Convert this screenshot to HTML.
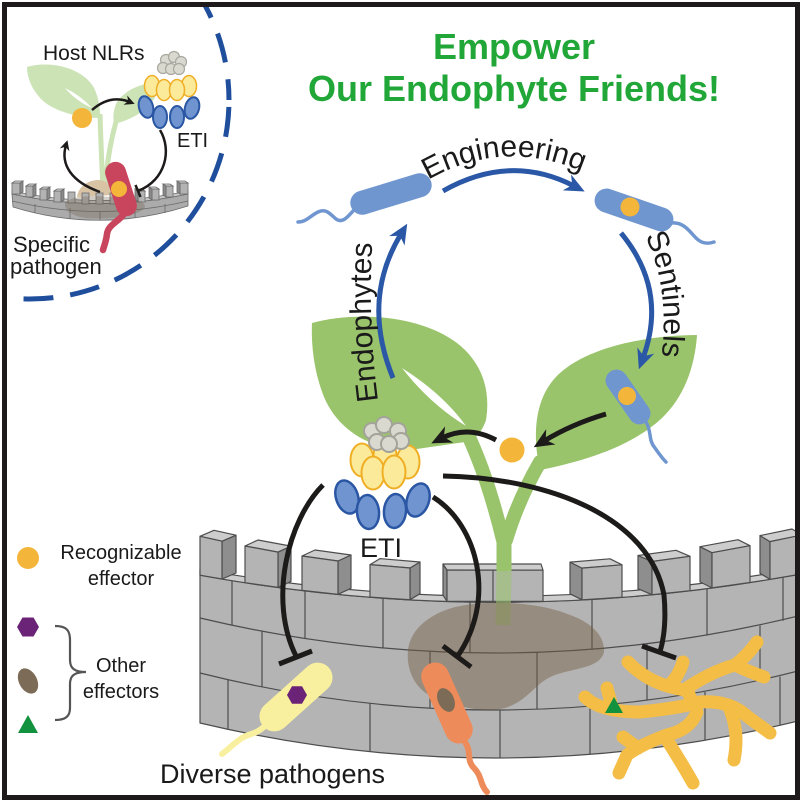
<!DOCTYPE html>
<html><head><meta charset="utf-8"><style>html,body{margin:0;padding:0;background:#fff}svg{display:block}</style></head>
<body>
<svg width="800" height="800" viewBox="0 0 800 800" xmlns="http://www.w3.org/2000/svg" font-family="'Liberation Sans', Arial, sans-serif">
<defs>
<clipPath id="cf"><rect x="7" y="7" width="788" height="788"/></clipPath>
<marker id="mb" viewBox="-22 -11 24 22" refX="-12" refY="0" markerWidth="24" markerHeight="22" markerUnits="userSpaceOnUse" orient="auto"><path d="M0,0 L-20,-9 L-14,0 L-20,9 Z" fill="#2a58a6"/></marker>
<marker id="mk" viewBox="-22 -11 24 22" refX="-12" refY="0" markerWidth="24" markerHeight="22" markerUnits="userSpaceOnUse" orient="auto"><path d="M0,0 L-20,-9 L-14,0 L-20,9 Z" fill="#1d1a1a"/></marker>
<marker id="ms" viewBox="-12 -6 14 12" refX="-5" refY="0" markerWidth="14" markerHeight="12" markerUnits="userSpaceOnUse" orient="auto"><path d="M0,0 L-10,-5 L-7,0 L-10,5 Z" fill="#1d1a1a"/></marker>
<path id="pEng" d="M428,180 Q507,135 592,176"/>
<path id="pSen" d="M645,236 Q672,290 660,370"/>
<path id="pEnd" d="M378,401 Q367,315 373,230"/>
</defs>
<rect width="800" height="800" fill="#fff"/>

<!-- ===== INSET ===== -->
<g clip-path="url(#cf)">
<circle cx="30" cy="100" r="199" fill="none" stroke="#1f4e9c" stroke-width="5" stroke-dasharray="30 17" stroke-dashoffset="40"/>
</g>
<!-- inset leaves -->
<path d="M27,67 C50,60 85,68 95,90 C100,102 100,112 100,118 C80,118 55,112 42,100 C32,90 27,78 27,67 Z" fill="#cbe3b5"/>
<path d="M65,88 Q80,95 92,108 Q76,101 65,88 Z" fill="#fff"/>
<path d="M160,83 C140,82 122,92 116,104 C113,112 113,118 114,124 C130,120 145,112 152,102 C157,95 159,89 160,83 Z" fill="#cbe3b5"/>
<path d="M100,114 Q101,150 103,188" stroke="#cbe3b5" stroke-width="5" fill="none"/>
<path d="M116,122 Q108,150 105,188" stroke="#cbe3b5" stroke-width="5" fill="none"/>
<path d="M77,197 C78,187 88,180 98,180 C106,180 112,185 113,195 Z" fill="#d9c3a5"/>
<!-- inset wall -->
<g stroke="#6a6a6a" stroke-width="0.8">
<path d="M12,194 Q100,213 188,194 L188,206 Q100,234 13,207 Z" fill="#ababab"/>
<path d="M12,194 Q100,213 188,194 L188,191 Q100,210 12,191 Z" fill="#c8c8c8"/>
<path d="M12,201 Q100,222 188,201" fill="none"/>
<g fill="#b3b3b3">
<rect x="12" y="183" width="8" height="11"/><rect x="26" y="186" width="7" height="11"/><rect x="40" y="189" width="7" height="11"/><rect x="54" y="191" width="7" height="11"/><rect x="68" y="192" width="7" height="11"/><rect x="82" y="193" width="7" height="11"/><rect x="96" y="193" width="7" height="11"/><rect x="110" y="193" width="7" height="11"/><rect x="124" y="192" width="7" height="11"/><rect x="138" y="191" width="7" height="11"/><rect x="152" y="189" width="7" height="11"/><rect x="166" y="186" width="7" height="11"/><rect x="180" y="183" width="8" height="11"/>
</g>
<g fill="#8a8a8a">
<polygon points="20,183 23,181 23,192 20,194"/><polygon points="33,186 36,184 36,195 33,197"/><polygon points="47,189 50,187 50,198 47,200"/><polygon points="61,191 64,189 64,200 61,202"/>
<polygon points="138,191 135,189 135,200 138,202"/><polygon points="152,189 149,187 149,198 152,200"/><polygon points="166,186 163,184 163,195 166,197"/><polygon points="180,183 177,181 177,192 180,194"/>
</g>
<g fill="#d0d0d0">
<polygon points="12,183 20,183 23,181 15,181"/><polygon points="26,186 33,186 36,184 29,184"/><polygon points="40,189 47,189 50,187 43,187"/><polygon points="54,191 61,191 64,189 57,189"/>
<polygon points="138,191 145,191 142,189 135,189"/><polygon points="152,189 159,189 156,187 149,187"/><polygon points="166,186 173,186 170,184 163,184"/><polygon points="180,183 188,183 185,181 177,181"/>
</g>
<line x1="35" y1="204" x2="35" y2="213"/><line x1="70" y1="208" x2="70" y2="219"/><line x1="100" y1="211" x2="100" y2="220"/><line x1="135" y1="208" x2="135" y2="218"/><line x1="165" y1="204" x2="165" y2="213"/>
</g>
<path d="M65,203 C70,196 90,195 110,197 C130,197 145,200 145,207 C140,216 110,220 85,218 C72,216 64,210 65,203 Z" fill="rgba(110,90,70,0.3)"/>
<!-- inset pathogen -->
<path d="M124,214 C118,222 108,225 107,234 C106,242 104,246 103,250" stroke="#c8455d" stroke-width="6.5" fill="none" stroke-linecap="round"/>
<g transform="translate(121,189) rotate(72)"><rect x="-28" y="-10.5" width="56" height="21" rx="10.5" fill="#c8455d"/></g>
<circle cx="119" cy="189" r="8" fill="#f4b63a"/>
<!-- inset dot & arrows -->
<circle cx="82" cy="118" r="10" fill="#f4b63a"/>
<path d="M92,110 Q110,94 130,102" fill="none" stroke="#1d1a1a" stroke-width="2.5" marker-end="url(#ms)"/>
<path d="M100,192 C72,182 60,165 66,145" fill="none" stroke="#1d1a1a" stroke-width="2.5" marker-end="url(#ms)"/>
<path d="M160,130 C172,150 166,180 138,191" fill="none" stroke="#1d1a1a" stroke-width="2.5"/>
<line x1="135.5" y1="185" x2="140.5" y2="197" stroke="#1d1a1a" stroke-width="2.5"/>
<!-- inset NLR -->
<g fill="#fbea9a" stroke="#f0ae25" stroke-width="1.5">
<ellipse cx="152" cy="86" rx="7.5" ry="10.5"/><ellipse cx="189" cy="86" rx="7.5" ry="10.5"/>
<ellipse cx="164" cy="90" rx="7.5" ry="10.5"/><ellipse cx="177" cy="90" rx="7.5" ry="10.5"/>
</g>
<g fill="#d9d9d0" stroke="#a8a8a0" stroke-width="1.2">
<circle cx="166" cy="60" r="5.5"/><circle cx="174" cy="57" r="5.5"/><circle cx="181" cy="62" r="5.5"/>
<circle cx="163" cy="68" r="5.5"/><circle cx="171" cy="69" r="5.5"/><circle cx="179" cy="69" r="5.5"/>
</g>
<g fill="#6f94d0" stroke="#2a56a3" stroke-width="2">
<ellipse cx="146" cy="107" rx="7" ry="11" transform="rotate(-15 146 107)"/>
<ellipse cx="160" cy="117" rx="7" ry="11"/>
<ellipse cx="177" cy="117" rx="7" ry="11"/>
<ellipse cx="192" cy="108" rx="7" ry="11" transform="rotate(15 192 108)"/>
</g>
<text x="43" y="60" font-size="21" fill="#1a1a1a">Host NLRs</text>
<text x="177" y="147" font-size="20" fill="#1a1a1a">ETI</text>
<text x="13" y="252" font-size="22" fill="#1a1a1a">Specific</text>
<text x="10" y="274" font-size="22" fill="#1a1a1a">pathogen</text>

<!-- ===== TITLE ===== -->
<text x="514" y="59" font-size="36" font-weight="bold" fill="#21a638" text-anchor="middle">Empower</text>
<text x="514" y="101" font-size="36" font-weight="bold" fill="#21a638" text-anchor="middle" textLength="412" lengthAdjust="spacingAndGlyphs">Our Endophyte Friends!</text>

<!-- ===== MAIN WALL ===== -->
<g clip-path="url(#cf)" stroke="#4d4d4d" stroke-width="1.2" stroke-linejoin="round">
<path d="M200,575.2 Q498.5,629.6 797,574.6 L802,574 L802,721 L797,721.3 Q498.5,793.85 200,723 Z" fill="#b4b4b4"/>
<path d="M200,575.2 Q498.5,629.6 797,574.6 L802,574 L802,567 L797,568.6 Q498.5,623.6 200,569.2 Z" fill="#cdcdcd"/>
<path d="M200,618 Q498.5,688.85 797,616.3" fill="none"/>
<path d="M200,673 Q498.5,747.9 797,671.2" fill="none"/>
<g fill="none">
<line x1="232" y1="580.6" x2="232" y2="625.3"/><line x1="305" y1="590.8" x2="305" y2="638.5"/><line x1="383" y1="598.1" x2="383" y2="647.9"/><line x1="470" y1="601.8" x2="470" y2="652.7"/><line x1="592" y1="599.3" x2="592" y2="649.4"/><line x1="707" y1="588.6" x2="707" y2="635.6"/><line x1="783" y1="577.1" x2="783" y2="620.8"/>
<line x1="262" y1="631.2" x2="262" y2="687"/><line x1="430" y1="651.2" x2="430" y2="708.1"/><line x1="537" y1="652.4" x2="537" y2="709.3"/><line x1="647" y1="644.1" x2="647" y2="700.6"/><line x1="760" y1="625.7" x2="760" y2="681.2"/>
<line x1="228" y1="679.8" x2="228" y2="728.7"/><line x1="370" y1="703.3" x2="370" y2="751.5"/><line x1="500" y1="710" x2="500" y2="758"/><line x1="590" y1="706.4" x2="590" y2="754.5"/><line x1="705" y1="692" x2="705" y2="740.5"/><line x1="780" y1="676.6" x2="780" y2="725.5"/>
</g>
<!-- merlons -->
<polygon points="222,541.2 222,579 236,573 236,535.2" fill="#8e8e8e"/>
<polygon points="200,536.3 222,541.2 236,535.2 214,530.3" fill="#cdcdcd"/>
<polygon points="200,575.2 200,536.3 222,541.2 222,579" fill="#b4b4b4"/>
<polygon points="278,552.1 278,587.4 291,581.4 291,546.1" fill="#8e8e8e"/>
<polygon points="245,546 278,552.1 291,546.1 258,540" fill="#cdcdcd"/>
<polygon points="245,582.7 245,546 278,552.1 278,587.4" fill="#b4b4b4"/>
<polygon points="338,561 338,594.3 351,588.3 351,555" fill="#8e8e8e"/>
<polygon points="302,556 338,561 351,555 315,550" fill="#cdcdcd"/>
<polygon points="302,590.4 302,556 338,561 338,594.3" fill="#b4b4b4"/>
<polygon points="410,568 410,599.7 420,593.7 420,562" fill="#8e8e8e"/>
<polygon points="370,564.6 410,568 420,562 380,558.6" fill="#cdcdcd"/>
<polygon points="370,597.1 370,564.6 410,568 410,599.7" fill="#b4b4b4"/>
<polygon points="447,570 447,601.2 443,595.2 443,564" fill="#8e8e8e"/>
<polygon points="447,570 543,570.2 541,564 443,564" fill="#cdcdcd"/>
<polygon points="447,601.2 447,570 543,570.2 543,601.4" fill="#b4b4b4"/>
<line x1="493" y1="570.1" x2="493" y2="602"/>
<polygon points="582,568.1 582,599.8 570,593.8 570,562.1" fill="#8e8e8e"/>
<polygon points="582,568.1 622,564.8 610,558.8 570,562.1" fill="#cdcdcd"/>
<polygon points="582,599.8 582,568.1 622,564.8 622,597.2" fill="#b4b4b4"/>
<polygon points="652,561.5 652,594.7 638,588.7 638,555.5" fill="#8e8e8e"/>
<polygon points="652,561.5 690,556.3 676,550.3 638,555.5" fill="#cdcdcd"/>
<polygon points="652,594.7 652,561.5 690,556.3 690,590.7" fill="#b4b4b4"/>
<polygon points="712,552.7 712,587.9 700,581.9 700,546.7" fill="#8e8e8e"/>
<polygon points="712,552.7 750,545.7 738,539.7 700,546.7" fill="#cdcdcd"/>
<polygon points="712,587.9 712,552.7 750,545.7 750,582.5" fill="#b4b4b4"/>
<polygon points="770,541.6 770,579.3 760,573.3 760,535.6" fill="#8e8e8e"/>
<polygon points="770,541.6 802,535 792,529 760,535.6" fill="#cdcdcd"/>
<polygon points="770,579.3 770,541.6 802,535 802,574" fill="#b4b4b4"/>
</g>

<!-- ===== PLANT ===== -->
<path d="M468,435 Q488,478 503,540" stroke="#9ac46c" stroke-width="14" fill="none" stroke-linecap="round"/>
<path d="M540,462 Q518,500 506,540" stroke="#9ac46c" stroke-width="14" fill="none" stroke-linecap="round"/>
<path d="M504,536 L504,571" stroke="#9ac46c" stroke-width="15" fill="none"/>
<path d="M504,571 L503,625" stroke="#9ac46c" stroke-width="15" fill="none" opacity="0.55"/>
<path d="M408,650 C410,630 430,612 460,606 C490,600 540,602 570,615 C590,622 605,635 604,652 C600,668 575,668 555,675 C535,682 530,700 505,708 C480,714 455,705 435,698 C415,690 406,670 408,650 Z" fill="rgba(115,90,65,0.45)"/>
<path d="M312,323 C360,310 430,316 465,350 C485,370 490,395 486,420 C482,432 475,440 465,442 L410,450 C370,450 338,430 324,397 C314,372 311,345 312,323 Z" fill="#9ac46c"/>
<path d="M402,368 Q443,394 466,426 Q430,404 402,368 Z" fill="#fff"/>
<path d="M697,335 C655,335 585,345 555,378 C535,400 532,435 540,470 C580,462 630,448 662,418 C685,396 695,365 697,335 Z" fill="#9ac46c"/>

<!-- ===== CYCLE ===== -->
<g fill="none" stroke="#2a58a6" stroke-width="5">
<path d="M443,191 Q510,153 574,186" marker-end="url(#mb)"/>
<path d="M621,233 Q668,290 643,358" marker-end="url(#mb)"/>
<path d="M393,378 Q361,300 401,234" marker-end="url(#mb)"/>
</g>
<!-- endophyte -->
<path d="M354,210 C348,216 343,224 336,219 C330,214 326,208 318,212 C310,216 306,222 298,222" stroke="#7096d0" stroke-width="3.5" fill="none" stroke-linecap="round"/>
<g transform="translate(391,194) rotate(-17)"><rect x="-42" y="-12" width="84" height="24" rx="12" fill="#7096d0"/></g>
<!-- sentinel top right -->
<path d="M672,223 C684,222 690,232 696,238 C702,244 708,244 714,242" stroke="#7096d0" stroke-width="3.5" fill="none" stroke-linecap="round"/>
<g transform="translate(634,210) rotate(19)"><rect x="-41" y="-12" width="82" height="24" rx="12" fill="#7096d0"/></g>
<circle cx="630" cy="207" r="9.5" fill="#f4b63a"/>
<!-- sentinel on leaf -->
<path d="M646,422 C652,432 648,440 655,448 C660,455 662,458 666,462" stroke="#7096d0" stroke-width="3.5" fill="none" stroke-linecap="round"/>
<g transform="translate(628,397) rotate(55)"><rect x="-31" y="-11" width="62" height="22" rx="11" fill="#7096d0"/></g>
<circle cx="627" cy="396" r="9" fill="#f4b63a"/>
<!-- cycle labels -->
<text font-size="30" fill="#1a1a1a"><textPath href="#pEng">Engineering</textPath></text>
<text font-size="30" fill="#1a1a1a"><textPath href="#pSen">Sentinels</textPath></text>
<text font-size="30" fill="#1a1a1a"><textPath href="#pEnd">Endophytes</textPath></text>

<!-- dot & black arrows -->
<circle cx="512" cy="450" r="12.5" fill="#f4b63a"/>
<path d="M606,414 Q572,424 544,441" fill="none" stroke="#1d1a1a" stroke-width="5" marker-end="url(#mk)"/>
<path d="M496,440 Q468,425 442,438" fill="none" stroke="#1d1a1a" stroke-width="5" marker-end="url(#mk)"/>

<!-- inhibition arcs -->
<g fill="none" stroke="#1d1a1a" stroke-width="5">
<path d="M323,485 C288,520 268,600 296,656"/>
<line x1="279" y1="664" x2="312" y2="651"/>
<path d="M433,497 C478,525 497,600 457,657"/>
<line x1="443" y1="646" x2="471" y2="667"/>
<path d="M443,476 C555,478 650,520 664,595 Q667,628 660,652"/>
<line x1="642" y1="646" x2="676" y2="658"/>
</g>

<!-- NLR cluster -->
<g fill="#fbea9a" stroke="#f0ae25" stroke-width="2">
<ellipse cx="362" cy="460" rx="11.5" ry="16.5"/>
<ellipse cx="408" cy="462" rx="11.5" ry="16.5"/>
<ellipse cx="385" cy="456" rx="11.5" ry="16.5"/>
<ellipse cx="373" cy="473" rx="11.5" ry="16.5"/>
<ellipse cx="394" cy="472" rx="11.5" ry="16.5"/>
</g>
<g fill="#d9d9d0" stroke="#a3a39a" stroke-width="2">
<circle cx="372" cy="431" r="8"/><circle cx="384" cy="425" r="8"/><circle cx="398" cy="431" r="8"/>
<circle cx="377" cy="442" r="8"/><circle cx="401" cy="441" r="8"/><circle cx="389" cy="444" r="8"/>
</g>
<g fill="#6f94d0" stroke="#2a56a3" stroke-width="2.5">
<ellipse cx="347" cy="497" rx="11" ry="17" transform="rotate(-18 347 497)"/>
<ellipse cx="418" cy="500" rx="11" ry="17" transform="rotate(18 418 500)"/>
<ellipse cx="368" cy="512" rx="11" ry="17" transform="rotate(-5 368 512)"/>
<ellipse cx="395" cy="511" rx="11" ry="17" transform="rotate(5 395 511)"/>
</g>
<text x="360" y="557" font-size="27" fill="#1a1a1a">ETI</text>

<!-- ===== PATHOGENS ===== -->
<path d="M265,726 C255,735 250,733 242,738 C234,743 230,748 222,754" stroke="#f9f09f" stroke-width="6" fill="none" stroke-linecap="round"/>
<g transform="translate(296,697) rotate(-42)"><rect x="-44" y="-15" width="88" height="30" rx="15" fill="#f9f09f"/></g>
<polygon points="307,695 302,703.7 292,703.7 287,695 292,686.3 302,686.3" fill="#6b2377"/>

<path d="M465,742 C472,752 466,760 474,768 C482,776 480,785 487,792" stroke="#ee8b5b" stroke-width="6" fill="none" stroke-linecap="round"/>
<g transform="translate(447,703) rotate(66)"><rect x="-43" y="-14" width="86" height="28" rx="14" fill="#ee8b5b"/></g>
<ellipse cx="446" cy="700" rx="8" ry="12.5" transform="rotate(-25 446 700)" fill="#7b6b57"/>

<g clip-path="url(#cf)" fill="none" stroke="#f4bd45" stroke-width="13" stroke-linecap="round" stroke-linejoin="round">
<path d="M628,662 Q650,685 685,690"/>
<path d="M683,662 Q678,678 668,686"/>
<path d="M684,690 Q710,672 735,665 Q748,655 757,642"/>
<path d="M735,665 Q750,672 764,677"/>
<path d="M585,697 Q600,712 640,712 Q680,708 700,702 Q730,700 748,717 L770,733"/>
<path d="M607,688 L611,703"/>
<path d="M688,692 L694,706"/>
<path d="M697,712 Q690,730 667,735 Q640,745 627,755 L619,773"/>
<path d="M638,748 L623,737"/>
<path d="M665,737 Q680,760 693,783"/>
<path d="M728,705 Q740,730 734,760"/>
</g>
<polygon points="605,713 623,713 614,697" fill="#12913f"/>

<!-- ===== LEGEND ===== -->
<circle cx="28" cy="558" r="11" fill="#f4b63a"/>
<text x="121" y="559" font-size="20" fill="#1a1a1a" text-anchor="middle">Recognizable</text>
<text x="121" y="585" font-size="20" fill="#1a1a1a" text-anchor="middle">effector</text>
<polygon points="39,627 33.5,636.5 22.5,636.5 17,627 22.5,617.5 33.5,617.5" fill="#6b2377"/>
<ellipse cx="28" cy="681" rx="9" ry="13.5" transform="rotate(-28 28 681)" fill="#7b6b57"/>
<polygon points="18,733 38,733 28,715" fill="#12913f"/>
<path d="M55,626 C66,626 70,630 70,640 L70,660 C70,668 74,672 86,672 C74,672 70,676 70,684 L70,708 C70,716 66,720 55,720" fill="none" stroke="#555" stroke-width="2.2"/>
<text x="121" y="672" font-size="20" fill="#1a1a1a" text-anchor="middle">Other</text>
<text x="121" y="698" font-size="20" fill="#1a1a1a" text-anchor="middle">effectors</text>
<text x="160" y="783" font-size="27" fill="#1a1a1a" textLength="225" lengthAdjust="spacingAndGlyphs">Diverse pathogens</text>

<!-- frame -->
<rect x="4.5" y="4.5" width="793" height="793" fill="none" stroke="#1e1a1b" stroke-width="5"/>
</svg>
</body></html>
